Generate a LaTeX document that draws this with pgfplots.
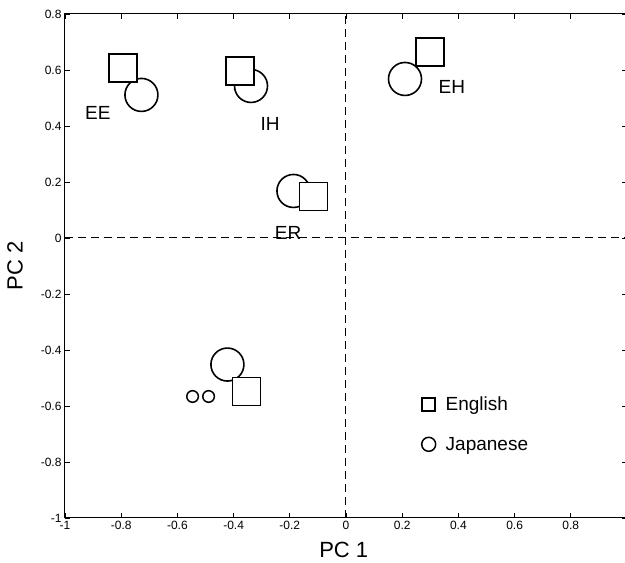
\documentclass[border=0pt]{standalone}
\usepackage{fontspec}
\setmainfont{Liberation Sans}
\usepackage{pgfplots}
\pgfplotsset{compat=1.18}
\begin{document}
\begin{tikzpicture}
\begin{axis}[
  scale only axis, width=562pt, height=504pt,
  xmin=-1, xmax=1, ymin=-1, ymax=0.8,
  xtick={-1,-0.8,-0.6,-0.4,-0.2,0,0.2,0.4,0.6,0.8},
  ytick={-1,-0.8,-0.6,-0.4,-0.2,0,0.2,0.4,0.6,0.8},
  tick align=inside, major tick length=5pt,
  tick style={black, line width=0.8pt},
  axis line style={line width=1pt},
  ticklabel style={font=\fontsize{12}{14}\selectfont},
  /pgf/number format/assume math mode=true,
  /pgf/number format/fixed,
  xlabel={PC 1}, ylabel={PC 2},
  label style={font=\fontsize{22}{24}\selectfont},
  xlabel style={at={(axis description cs:0.496,-0.0635)}, anchor=center},
  ylabel style={at={(axis description cs:-0.089,0.5)}, anchor=center},
  clip=false,
  legend style={at={(axis cs:0.258,-0.552)}, anchor=north west, draw=none, fill=none,
    font=\fontsize{19}{22}\selectfont, row sep=21pt,
    /tikz/every odd column/.append style={column sep=8pt}},
  legend cell align=left,
]
\coordinate (sw) at (rel axis cs:0,0);
% zero lines
\addplot[forget plot, black, line width=1pt, dash pattern=on 8pt off 5pt] coordinates {(-1,0) (1,0)};
\addplot[forget plot, black, line width=1pt, dash pattern=on 8pt off 5pt] coordinates {(0,-1) (0,0.8)};
% Japanese (circles)
\addplot[forget plot, only marks, mark=*, mark size=16.5pt, mark options={fill=white, draw=black, line width=1.6pt}]
  coordinates {(-0.728,0.511) (-0.338,0.543) (-0.187,0.168) (0.210,0.568) (-0.422,-0.452)};
\addplot[forget plot, only marks, mark=*, mark size=5.8pt, mark options={fill=white, draw=black, line width=1.5pt}]
  coordinates {(-0.546,-0.566) (-0.489,-0.566)};
% English (squares)
\addplot[forget plot, only marks, mark=square*, mark size=14pt, mark options={fill=white, draw=black, line width=1.6pt}]
  coordinates {(-0.794,0.607) (-0.377,0.596) (-0.116,0.148) (0.299,0.664) (-0.354,-0.548)};
% labels
\node[font=\fontsize{19}{21}\selectfont] at (axis cs:-0.883,0.446) {EE};
\node[font=\fontsize{19}{21}\selectfont] at (axis cs:-0.270,0.407) {IH};
\node[font=\fontsize{19}{21}\selectfont] at (axis cs:-0.206,0.018) {ER};
\node[font=\fontsize{19}{21}\selectfont] at (axis cs:0.377,0.539) {EH};
% legend
\addlegendimage{only marks, mark=square, mark size=6.5pt, mark options={line width=1.5pt}, black}
\addlegendentry{English}
\addlegendimage{only marks, mark=o, mark size=7pt, mark options={line width=1.5pt}, black}
\addlegendentry{Japanese}
\end{axis}
\pgfresetboundingbox
\path[use as bounding box] ([shift={(-65pt,-45pt)}]sw) rectangle ([shift={(560pt,518pt)}]sw);
\end{tikzpicture}
\end{document}
